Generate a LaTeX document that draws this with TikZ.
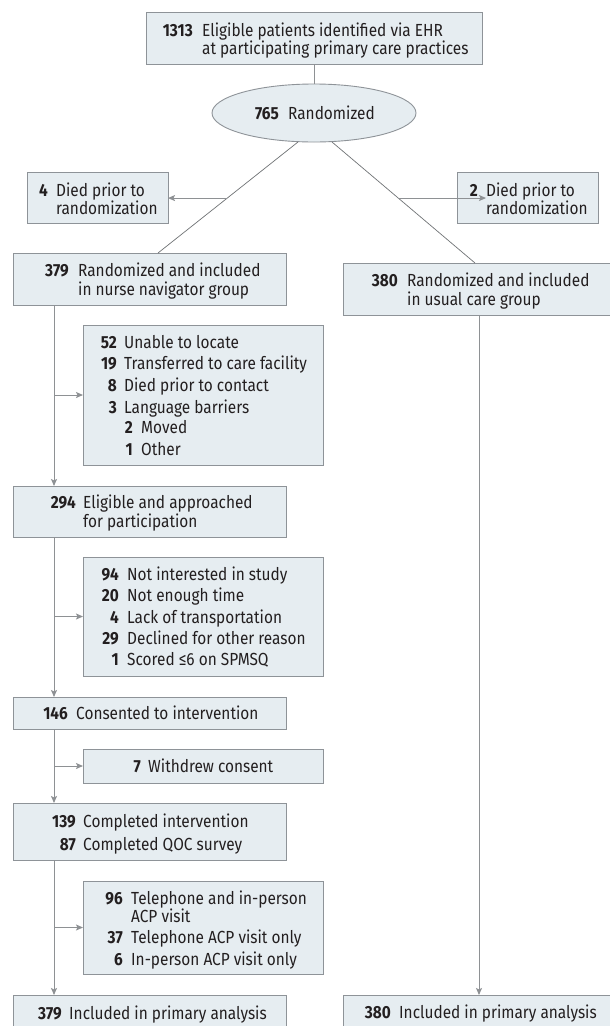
\documentclass[tikz,border=0pt]{standalone}
\usepackage{fontspec}
\setmainfont[FakeStretch=0.88]{Fira Sans}
\usetikzlibrary{arrows.meta,shapes.geometric}
\definecolor{boxc}{HTML}{E6EDF1}
\definecolor{bordc}{HTML}{8E9398}
\definecolor{linec}{HTML}{8E9194}
\definecolor{diagc}{HTML}{6F7275}
\definecolor{txtc}{HTML}{231F20}
\tikzset{
  box/.style={draw=bordc, fill=boxc, line width=0.9pt, inner sep=0pt, outer sep=0pt, anchor=north west},
  ellbox/.style={ellipse, draw=bordc, fill=boxc, line width=0.9pt, inner sep=0pt, outer sep=0pt, minimum width=204pt, minimum height=58pt},
  num/.style={anchor=base east, inner sep=0pt, text=txtc, font=\fontsize{17.5}{20}\selectfont\bfseries},
  txt/.style={anchor=base west, inner sep=0pt, text=txtc, font=\fontsize{17.5}{20}\selectfont},
  conn/.style={draw=linec, line width=1pt},
  diag/.style={draw=diagc, line width=0.7pt},
  arr/.style={conn, -{Stealth[length=7pt, width=6pt, inset=1.5pt]}}
}
\newcommand{\entry}[6]{%
  \node[num] (#1n) at (#2,#4) {#5};
  \node[txt] (#1t) at (#3,#4) {#6};}
\newcommand{\plain}[4]{\node[txt] (#1) at (#2,#3) {#4};}
\begin{document}
\begin{tikzpicture}[x=1pt,y=-1pt]
\useasboundingbox (0,0) rectangle (610,1026);
\clip (0,0) rectangle (610,1026);
\fill[white] (0,0) rectangle (610,1026);
% boxes
\node[box, minimum width=336pt, minimum height=52pt] (top) at (146,12) {};
\node[ellbox] (ell) at (314,113) {};
\node[box, minimum width=141pt, minimum height=51pt] (d1) at (27,172) {};
\node[box, minimum width=141pt, minimum height=51pt] (d2) at (457,172) {};
\node[box, minimum width=273pt, minimum height=52pt] (nav) at (13,253) {};
\node[box, minimum width=282pt, minimum height=52pt] (uc) at (343,263) {};
\node[box, minimum width=240pt, minimum height=140pt] (ex1) at (83,325) {};
\node[box, minimum width=273pt, minimum height=51pt] (p294) at (13,486) {};
\node[box, minimum width=240pt, minimum height=119pt] (ex2) at (83,557) {};
\node[box, minimum width=273pt, minimum height=32pt] (c146) at (13,697) {};
\node[box, minimum width=240pt, minimum height=34pt] (wd) at (83,749) {};
\node[box, minimum width=273pt, minimum height=57pt] (c139) at (13,803) {};
\node[box, minimum width=240pt, minimum height=93pt] (acp) at (83,881) {};
\node[box, minimum width=273pt, minimum height=50pt] (f379) at (13,995) {};
\node[box, minimum width=282pt, minimum height=50pt] (f380) at (343,995) {};
% texts
\entry{a}{193}{202}{36}{1313}{Eligible patients identified via EHR}
\plain{a2}{202}{54}{at participating primary care practices}
\entry{b}{279}{288}{119}{765}{Randomized}
\entry{c}{48}{56}{196}{4}{Died prior to}
\plain{c2}{56}{214}{randomization}
\entry{d}{478}{486}{196}{2}{Died prior to}
\plain{d2}{486}{214}{randomization}
\entry{e}{69}{78}{276}{379}{Randomized and included}
\plain{e2}{78}{295}{in nurse navigator group}
\entry{f}{398}{407}{286}{380}{Randomized and included}
\plain{f2}{407}{305}{in usual care group}
\entry{g1}{117}{124}{348}{52}{Unable to locate}
\entry{g2}{117}{124}{369}{19}{Transferred to care facility}
\entry{g3}{117}{124}{391}{8}{Died prior to contact}
\entry{g4}{117}{124}{413}{3}{Language barriers}
\entry{g5}{133}{141}{433}{2}{Moved}
\entry{g6}{133}{141}{455}{1}{Other}
\entry{h}{76}{83}{508}{294}{Eligible and approached}
\plain{h2}{83}{527}{for participation}
\entry{i1}{119}{127}{580}{94}{Not interested in study}
\entry{i2}{119}{127}{601}{20}{Not enough time}
\entry{i3}{119}{127}{623}{4}{Lack of transportation}
\entry{i4}{119}{127}{644}{29}{Declined for other reason}
\entry{i5}{119}{127}{665}{1}{Scored ≤6 on SPMSQ}
\entry{j}{68}{76}{719}{146}{Consented to intervention}
\entry{k}{141}{148}{772}{7}{Withdrew consent}
\entry{l1}{76}{83}{827}{139}{Completed intervention}
\entry{l2}{76}{83}{850}{87}{Completed QOC survey}
\entry{m1}{123}{131}{904}{96}{Telephone and in-person}
\plain{m1b}{131}{922}{ACP visit}
\entry{m2}{123}{131}{943}{37}{Telephone ACP visit only}
\entry{m3}{123}{131}{965}{6}{In-person ACP visit only}
\entry{n}{62}{69}{1019}{379}{Included in primary analysis}
\entry{o}{391}{399}{1018}{380}{Included in primary analysis}
% connectors
\draw[conn] (top.south) -- (ell.north);
\draw[diag] ([xshift=-16pt]ell.south) -- coordinate[pos=0.505] (ml) ([xshift=145pt]nav.north west);
\draw[diag] ([xshift=18pt]ell.south) -- coordinate[pos=0.463] (mr) ([xshift=132pt]uc.north west);
\draw[arr] (ml) -- (ml -| d1.east);
\draw[arr] (mr) -- (mr -| d2.west);
\draw[arr] ([xshift=41pt]nav.south west) -- ([xshift=41pt]p294.north west);
\draw[arr] ([xshift=41pt]nav.south west |- ex1.west) -- (ex1.west);
\draw[arr] ([xshift=41pt]p294.south west) -- ([xshift=41pt]c146.north west);
\draw[arr] ([xshift=41pt]p294.south west |- ex2.west) -- (ex2.west);
\draw[arr] ([xshift=41pt]c146.south west) -- ([xshift=41pt]c139.north west);
\draw[arr] ([xshift=41pt]c146.south west |- wd.west) -- (wd.west);
\draw[arr] ([xshift=41pt]c139.south west) -- ([xshift=41pt]f379.north west);
\draw[arr] ([xshift=41pt]c139.south west |- acp.west) -- (acp.west);
\draw[arr] ([xshift=136pt]uc.south west) -- ([xshift=136pt]f380.north west);
\end{tikzpicture}
\end{document}
